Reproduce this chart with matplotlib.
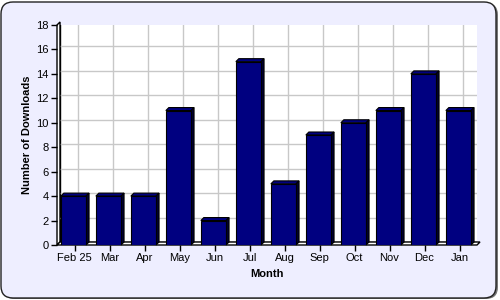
import numpy as np
import matplotlib.pyplot as plt
from matplotlib.patches import FancyBboxPatch, Polygon, Rectangle
from matplotlib.transforms import IdentityTransform

months = ['Feb 25', 'Mar', 'Apr', 'May', 'Jun', 'Jul', 'Aug', 'Sep', 'Oct', 'Nov', 'Dec', 'Jan']
downloads = [4, 4, 4, 11, 2, 15, 5, 9, 10, 11, 14, 11]
y_ticks = [0, 2, 4, 6, 8, 10, 12, 14, 16, 18]

plt.rcParams['font.family'] = ['Liberation Sans', 'DejaVu Sans']

fig = plt.figure(figsize=(5, 3), dpi=100, facecolor='white')

# rounded lavender frame with a small shadow (pixel coords)
shadow = FancyBboxPatch((3, 1), 495, 296, boxstyle='round,pad=0,rounding_size=12',
                        transform=IdentityTransform(), facecolor='#777777', edgecolor='none', zorder=-10)
frame = FancyBboxPatch((1, 2), 495, 296, boxstyle='round,pad=0,rounding_size=12',
                       transform=IdentityTransform(), facecolor='#EEEEFF', edgecolor='#222222', lw=1, zorder=-9)
fig.patches.extend([shadow, frame])

ax = fig.add_axes([57 / 500, 55 / 300, 420 / 500, 220 / 300])
ax.set_xlim(-0.5, 11.5)
ax.set_ylim(0, 18)
ax.patch.set_alpha(0)
for s in ax.spines.values():
    s.set_visible(False)

# depth of the 3d effect, 3 px
dx = 3 / 35
dy = 3 / (220 / 18)
x0, x1 = -0.5, 11.5

# back wall, left wall, floor
ax.add_patch(Rectangle((x0 + dx, dy), x1 - x0, 18, facecolor='white', edgecolor='black', lw=1, zorder=0))
ax.add_patch(Polygon([(x0, 0), (x0 + dx, dy), (x0 + dx, 18 + dy), (x0, 18)], closed=True,
                     facecolor='white', edgecolor='black', lw=1, zorder=0.5, clip_on=False))
ax.add_patch(Polygon([(x0, 0), (x1, 0), (x1 + dx, dy), (x0 + dx, dy)], closed=True,
                     facecolor='white', edgecolor='black', lw=1, zorder=0.5, clip_on=False))

# grid on the back wall
for v in y_ticks[1:-1]:
    ax.plot([x0 + dx, x1 + dx], [v + dy, v + dy], color='#C8C8C8', lw=1, zorder=0.2)
for i in range(len(months)):
    ax.plot([i + dx, i + dx], [dy, 18 + dy], color='#C8C8C8', lw=1, zorder=0.2)

# bars: front face, top and side
x = np.arange(len(months))
w = 0.72
ax.bar(x - 0.03, downloads, width=w, color='#000080', edgecolor='black', lw=0.8, zorder=3)
for xi, h in zip(x - 0.03, downloads):
    l, r = xi - w / 2, xi + w / 2
    ax.add_patch(Polygon([(l, h), (r, h), (r + dx, h + dy), (l + dx, h + dy)], closed=True,
                         facecolor='#000080', edgecolor='black', lw=0.8, zorder=2.5, clip_on=False))
    ax.add_patch(Polygon([(r, 0), (r + dx, dy), (r + dx, h + dy), (r, h)], closed=True,
                         facecolor='#000030', edgecolor='black', lw=0.8, zorder=2.5, clip_on=False))

ax.set_xticks(x)
ax.set_xticklabels(months, fontsize=8)
ax.set_yticks(y_ticks)
ax.set_yticklabels([str(v) for v in y_ticks], fontsize=8)
ax.tick_params(axis='both', length=4, width=1, color='black', pad=2)
ax.set_xlabel('Month', fontsize=8, fontweight='bold', labelpad=4)
ax.set_ylabel('Number of Downloads', fontsize=8, fontweight='bold', labelpad=3)

fig.savefig('out.png', dpi=100, facecolor=fig.get_facecolor())
